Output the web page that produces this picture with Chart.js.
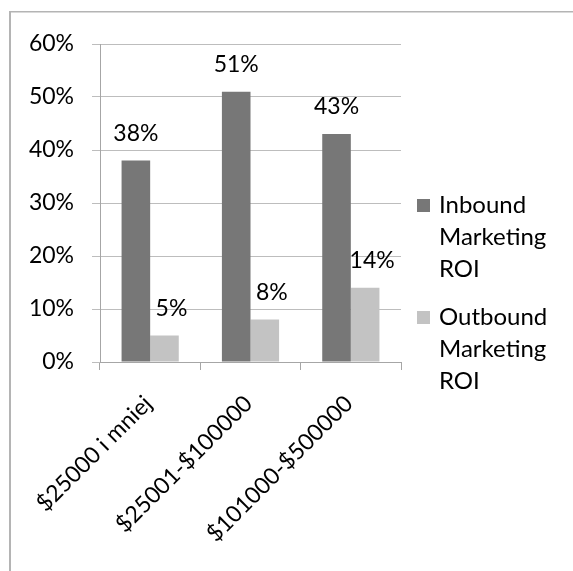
<!DOCTYPE html>
<html><head><meta charset="utf-8">
<script src="https://cdn.jsdelivr.net/npm/chart.js@4/dist/chart.umd.min.js"></script>
<style>html,body{margin:0;padding:0;background:#fff;overflow:hidden;} canvas{display:block;}</style>
</head><body>
<canvas id="c" width="573" height="571"></canvas>
<script>
const categories = ["$25000 i mniej", "$25001-$100000", "$101000-$500000"];
const inboundValues = [38, 51, 43];
const outboundValues = [5, 8, 14];
const seriesNames = ["Inbound Marketing ROI", "Outbound Marketing ROI"];
const yMin = 0, yMax = 60, yStep = 10;

const FONT = "Lato";
const FSIZE = 23;
const LSIZE = 24;
const TEXT = "#000000";

const framePlugin = {
  id: "frame",
  beforeDraw(chart) {
    const ctx = chart.ctx;
    ctx.save();
    ctx.fillStyle = "#ffffff";
    ctx.fillRect(0, 0, chart.width, chart.height);
    ctx.fillStyle = "#b4b4b4";
    ctx.fillRect(9, 11, chart.width - 9, 1.5);
    ctx.fillRect(9, 11, 2, chart.height - 11);
    ctx.restore();
  }
};

const labelPlugin = {
  id: "valueLabels",
  afterDatasetsDraw(chart) {
    const ctx = chart.ctx;
    ctx.save();
    ctx.font = FSIZE + "px " + FONT;
    ctx.fillStyle = TEXT;
    ctx.textAlign = "center";
    ctx.textBaseline = "alphabetic";
    chart.data.datasets.forEach((ds, di) => {
      const meta = chart.getDatasetMeta(di);
      meta.data.forEach((bar, i) => {
        const dx = di === 1 ? 7 : 0;
        ctx.fillText(ds.data[i] + "%", bar.x + dx, bar.y - 20);
      });
    });
    ctx.restore();
  }
};

const legendPlugin = {
  id: "sideLegend",
  afterDraw(chart) {
    const ctx = chart.ctx;
    ctx.save();
    ctx.font = LSIZE + "px " + FONT;
    ctx.textAlign = "left";
    ctx.textBaseline = "middle";
    chart.data.datasets.forEach((ds, di) => {
      const cy = 205 + di * 112;
      ctx.fillStyle = ds.backgroundColor;
      ctx.fillRect(417, cy - 6, 13, 13);
      ctx.fillStyle = TEXT;
      ds.label.split(" ").forEach((w, k) => {
        ctx.fillText(w, 439, cy + k * 32);
      });
    });
    ctx.restore();
  }
};

new Chart(document.getElementById("c"), {
  type: "bar",
  data: {
    labels: categories,
    datasets: [
      { label: seriesNames[0], data: inboundValues, backgroundColor: "#777777", borderWidth: 0 },
      { label: seriesNames[1], data: outboundValues, backgroundColor: "#c3c3c3", borderWidth: 0 }
    ]
  },
  options: {
    responsive: false,
    animation: false,
    devicePixelRatio: 1,
    layout: { padding: { left: 0, top: 44, right: 172, bottom: 0 } },
    datasets: { bar: { categoryPercentage: 0.57, barPercentage: 1.0 } },
    plugins: { legend: { display: false }, tooltip: { enabled: false } },
    scales: {
      x: {
        grid: { drawOnChartArea: false, drawTicks: true, tickLength: 8, color: "#a6a6a6", offset: true },
        border: { display: true, color: "#a6a6a6", width: 1 },
        ticks: { autoSkip: false, minRotation: 45, maxRotation: 45, padding: 20, labelOffset: -2, color: TEXT, font: { family: FONT, size: FSIZE } },
        afterFit(scale) { scale.height = 571 - 362; }
      },
      y: {
        min: yMin, max: yMax,
        grid: { color: "#bdbdbd", tickLength: 8 },
        border: { display: true, color: "#a6a6a6", width: 1 },
        ticks: { stepSize: yStep, padding: 18, color: TEXT, font: { family: FONT, size: FSIZE }, callback: v => v + "%" },
        afterFit(scale) { scale.width = 100; }
      }
    }
  },
  plugins: [framePlugin, labelPlugin, legendPlugin]
});
</script>
</body></html>
